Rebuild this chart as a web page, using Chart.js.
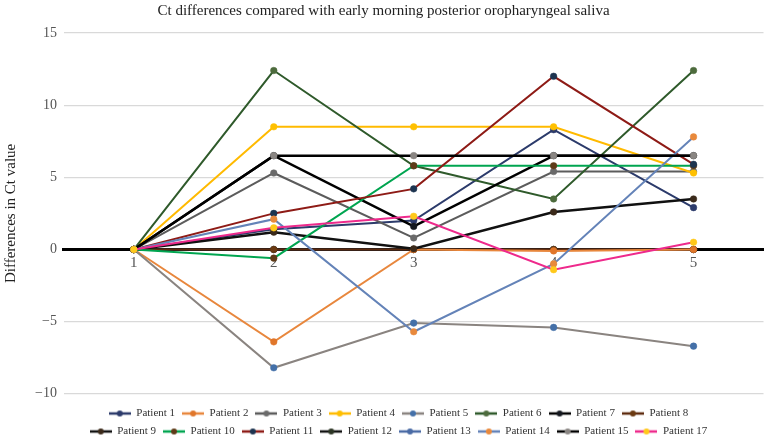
<!DOCTYPE html>
<html lang="en">
<head>
    <meta charset="UTF-8">
    <title>Ct differences</title>
    <script src="https://cdn.jsdelivr.net/npm/chart.js@4.4.1/dist/chart.umd.min.js"></script>
    <style>
        body { margin: 0; background: #fff; }
        #wrap { width: 768px; height: 439px; position: relative; }
    </style>
</head>
<body>
    <div id="wrap"><canvas id="ctChart"></canvas></div>

    <script>
        // sample time points
        const timePoints = ['1', '2', '3', '4', '5'];

        const patientNames = [
            'Patient 1', 'Patient 2', 'Patient 3', 'Patient 4', 'Patient 5', 'Patient 6',
            'Patient 7', 'Patient 8', 'Patient 9', 'Patient 10', 'Patient 11', 'Patient 12',
            'Patient 13', 'Patient 14', 'Patient 15', 'Patient 17'
        ];

        // Ct differences, one row per patient
        const p1  = [0, 1.4, 2.0, 8.3, 2.9];
        const p2  = [0, -6.4, 0, -0.1, 0];
        const p3  = [0, 5.3, 0.8, 5.4, 5.4];
        const p4  = [0, 8.5, 8.5, 8.5, 5.3];
        const p5  = [0, -8.2, -5.1, -5.4, -6.7];
        const p6  = [0, 12.4, 5.8, 3.5, 12.4];
        const p7  = [0, 6.5, 1.6, 6.5, 6.5];
        const p8  = [0, 0, 0, 0, 0];
        const p9  = [0, 1.2, 0.05, 2.6, 3.5];
        const p10 = [0, -0.6, 5.8, 5.8, 5.8];
        const p11 = [0, 2.5, 4.2, 12.0, 5.9];
        const p12 = [0, 0, 0, 0, 0];
        const p13 = [0, 0, 0, 0, 0];
        const p14 = [0, 2.1, -5.7, -1.0, 7.8];
        const p15 = [0, 6.5, 6.5, 6.5, 6.5];
        const p17 = [0, 1.5, 2.3, -1.4, 0.5];
        const seriesValues = [p1, p2, p3, p4, p5, p6, p7, p8, p9, p10, p11, p12, p13, p14, p15, p17];

        const yTicks = [-10, -5, 0, 5, 10, 15];

        // line colour / marker colour per patient
        const lineColors = ['#2c3b6b', '#e8873d', '#5c5c5c', '#ffba00', '#8a8480', '#2f5a2b', '#000000', '#5d2a0e',
                            '#111111', '#00a550', '#8e1b16', '#111111', '#4a6ba5', '#6483b8', '#000000', '#ee2a8c'];
        const markerColors = ['#2c3b6b', '#e0762a', '#6a6a6a', '#ffc000', '#4470a8', '#4d6b3d', '#14181f', '#6b3a12',
                              '#3b2a1a', '#5e3a18', '#1d3450', '#2c3524', '#4a6ba5', '#e8893c', '#8a8683', '#ffc91a'];

        const serif = "'Liberation Serif', 'DejaVu Serif', serif";

        function legendIcon(line, dot) {
            const c = document.createElement('canvas');
            c.width = 22; c.height = 8;
            const g = c.getContext('2d');
            g.strokeStyle = line;
            g.lineWidth = 2.5;
            g.beginPath(); g.moveTo(0, 4); g.lineTo(22, 4); g.stroke();
            g.fillStyle = dot;
            g.beginPath(); g.arc(11, 4, 3, 0, Math.PI * 2); g.fill();
            return c;
        }
        const icons = patientNames.map((_, i) => legendIcon(lineColors[i], markerColors[i]));

        const datasets = patientNames.map((name, i) => {
            const vals = seriesValues[i];
            const black = lineColors[i] === '#000000' || lineColors[i] === '#111111';
            return {
                label: name,
                data: vals,
                borderColor: lineColors[i],
                backgroundColor: markerColors[i],
                borderWidth: black ? 2.5 : 2,
                pointRadius: 3.3,
                pointBorderWidth: 0.5,
                pointBackgroundColor: markerColors[i],
                pointBorderColor: markerColors[i],
                tension: 0,
                // later series on top, like the original; all-zero series sit underneath
                order: vals.every(v => v === 0) ? 100 : patientNames.length - i
            };
        });

        // keep the legend at 8 items per row, in a narrower band
        const LEGEND_W = 650;
        const legendRows = {
            id: 'legendRows',
            beforeUpdate(chart) {
                const lg = chart.legend;
                if (!lg || lg._rowsPatched) return;
                const fitRows = lg._fitRows;
                lg._fitRows = function (...args) {
                    const w = this.maxWidth;
                    this.maxWidth = LEGEND_W;
                    const h = fitRows.apply(this, args);
                    this.maxWidth = w;
                    return h;
                };
                const drawItems = lg._draw;
                lg._draw = function () {
                    const l = this.left, r = this.right;
                    this.left = (l + r) / 2 + 15 - LEGEND_W / 2;
                    this.right = this.left + LEGEND_W;
                    drawItems.call(this);
                    this.left = l;
                    this.right = r;
                };
                lg._rowsPatched = true;
            }
        };

        new Chart(document.getElementById('ctChart'), {
            type: 'line',
            data: { labels: timePoints, datasets: datasets },
            plugins: [legendRows],
            options: {
                responsive: true,
                maintainAspectRatio: false,
                animation: false,
                layout: { padding: { top: 0, right: 1, bottom: -8, left: 0 } },
                plugins: {
                    title: {
                        display: true,
                        text: 'Ct differences compared with early morning posterior oropharyngeal saliva',
                        color: '#222',
                        font: { family: serif, size: 15, weight: 'normal' },
                        padding: { top: 2, bottom: 13 }
                    },
                    legend: {
                        position: 'bottom',
                        title: { display: true, text: '', font: { size: 1 }, padding: { top: 0, bottom: 6 } },
                        labels: {
                            usePointStyle: true,
                            pointStyleWidth: 22,
                            boxHeight: 8,
                            padding: 7,
                            color: '#333',
                            font: { family: serif, size: 11 },
                            generateLabels(chart) {
                                const items = Chart.defaults.plugins.legend.labels.generateLabels(chart);
                                items.forEach(it => { it.pointStyle = icons[it.datasetIndex]; });
                                return items.sort((a, b) => a.datasetIndex - b.datasetIndex);
                            }
                        }
                    },
                    tooltip: { enabled: false }
                },
                scales: {
                    x: {
                        type: 'category',
                        position: { y: 0 },
                        offset: true,
                        grid: { display: false, drawTicks: false },
                        border: { display: true, color: '#000', width: 3 },
                        ticks: { color: '#555', padding: 5, font: { family: serif, size: 15 } }
                    },
                    y: {
                        min: yTicks[0],
                        max: yTicks[yTicks.length - 1],
                        afterBuildTicks(scale) { scale.ticks = yTicks.map(v => ({ value: v })); },
                        grid: { color: '#d9d9d9', lineWidth: 1.2, drawTicks: false },
                        border: { display: false },
                        title: {
                            display: true,
                            text: 'Differences in Ct value',
                            color: '#222',
                            font: { family: serif, size: 15 },
                            padding: { top: 2, bottom: 8 }
                        },
                        ticks: {
                            color: '#555',
                            padding: 7,
                            font: { family: serif, size: 14 },
                            callback: v => String(v).replace('-', '\u2212')
                        }
                    }
                }
            }
        });
    </script>
</body>
</html>
